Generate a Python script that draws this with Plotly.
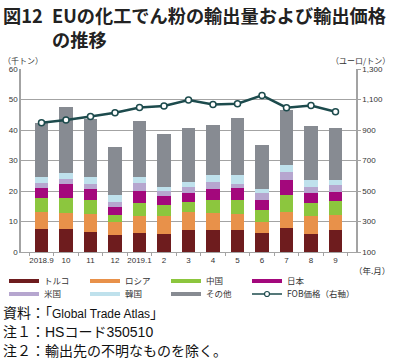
import plotly.graph_objects as go

months = ["2018.9", "10", "11", "12", "2019.1", "2", "3", "4", "5", "6", "7", "8", "9"]

turkey = [7.4, 7.5, 6.4, 5.5, 6.3, 5.8, 7.1, 7.3, 7.1, 6.2, 7.9, 6.0, 7.1]
russia = [5.7, 5.2, 6.2, 4.4, 5.4, 5.9, 6.0, 5.6, 5.5, 3.7, 5.2, 5.8, 4.9]
china = [4.5, 5.0, 4.4, 2.1, 4.5, 3.8, 3.3, 4.1, 4.4, 3.8, 5.5, 4.4, 4.6]
japan = [3.5, 4.5, 3.6, 2.8, 3.9, 2.9, 2.8, 3.5, 4.1, 3.5, 5.0, 3.2, 3.1]
usa = [1.4, 1.6, 1.8, 1.5, 2.5, 1.7, 2.2, 2.3, 1.3, 2.0, 2.7, 1.9, 2.2]
korea = [2.1, 2.2, 2.2, 2.3, 2.0, 1.1, 1.4, 2.6, 3.0, 1.4, 2.2, 2.2, 1.6]
others = [17.8, 21.4, 19.0, 15.7, 18.3, 17.6, 17.9, 16.2, 18.6, 14.6, 18.1, 17.8, 17.2]
fob_price = [948, 965, 989, 1013, 1048, 1057, 1096, 1068, 1072, 1127, 1046, 1061, 1020]

series_names = ["トルコ", "ロシア", "中国", "日本", "米国", "韓国", "その他"]
series_values = [turkey, russia, china, japan, usa, korea, others]
series_colors = ["#6e1c1e", "#e8914a", "#8cc63e", "#a3087c", "#b6a6cf", "#bfe1ec", "#878b92"]
line_name = "FOB価格（右軸）"
line_color = "#1d4b4d"

left_ticks = [0, 10, 20, 30, 40, 50, 60]
right_ticks = [100, 300, 500, 700, 900, 1100, 1300]
right_ticktext = ["100", "300", "500", "700", "900", "1,100", "1,300"]

W, H = 393, 359
ML, MR, MT, MB = 21, 37, 69, 107
PW, PH = W - ML - MR, H - MT - MB

def px(x):
    return (x - ML) / PW

def py(y):
    return (H - MB - y) / PH

FONT = "Liberation Sans, Arial, Noto Sans CJK JP, sans-serif"
JFONT = "Noto Sans CJK JP, sans-serif"
GRID = "#a3a3a3"

fig = go.Figure()

for name, vals, col in zip(series_names, series_values, series_colors):
    fig.add_trace(go.Bar(x=months, y=vals, name=name, marker_color=col,
                         marker_line_width=0, showlegend=False))

fig.add_trace(go.Scatter(x=months, y=fob_price, yaxis="y2", mode="lines+markers",
                         name=line_name,
                         line=dict(color=line_color, width=2.5),
                         marker=dict(symbol="circle", size=6, color="white",
                                     line=dict(color=line_color, width=1.5)),
                         showlegend=False))

# legend entries (line swatches like the original), two rows
for i in range(len(series_names)):
    fig.add_trace(go.Scatter(x=[None], y=[None], mode="lines", name=series_names[i],
                             line=dict(color=series_colors[i], width=4),
                             legend="legend" if i < 4 else "legend2"))
fig.add_trace(go.Scatter(x=[None], y=[None], mode="lines+markers", name=line_name,
                         line=dict(color=line_color, width=1.5),
                         marker=dict(symbol="circle", size=5, color="white",
                                     line=dict(color=line_color, width=1.2)),
                         legend="legend3"))

LEG = dict(orientation="h", traceorder="normal", xanchor="left",
           yanchor="middle", entrywidth=36, entrywidthmode="pixels",
           font=dict(family=JFONT, size=8.5, color="#333333"),
           bgcolor="rgba(0,0,0,0)", tracegroupgap=0, itemwidth=30)

fig.update_layout(
    width=W, height=H,
    margin=dict(l=ML, r=MR, t=MT, b=MB, pad=0, autoexpand=False),
    paper_bgcolor="white", plot_bgcolor="white",
    barmode="stack", bargap=0.46,
    font=dict(family=FONT, size=8, color="#333333"),
    showlegend=True,
    legend=dict(LEG, x=px(4), y=py(281)),
    legend2=dict(LEG, x=px(4), y=py(294)),
    legend3=dict(LEG, x=px(247), y=py(294), entrywidth=90),
    xaxis=dict(type="category", showgrid=False, showline=True, linecolor=GRID, linewidth=1,
               ticks="outside", ticklen=3, tickcolor=GRID, tickson="boundaries",
               tickangle=0, tickfont=dict(size=8, color="#333333"), fixedrange=True),
    yaxis=dict(range=[0, 60], tickvals=left_ticks, showgrid=True, gridcolor=GRID, gridwidth=1,
               showline=True, linecolor=GRID, linewidth=1.5, zeroline=False,
               ticks="", tickfont=dict(size=8, color="#333333")),
    yaxis2=dict(range=[100, 1300], tickvals=right_ticks, ticktext=right_ticktext,
                overlaying="y", side="right", showgrid=False, showline=True,
                linecolor=GRID, linewidth=1.5, ticks="outside", ticklen=3, tickcolor=GRID,
                zeroline=False, tickfont=dict(size=8, color="#333333")),
    hovermode=False,
)

ann = []
TF = dict(family=JFONT, size=18.2, color="#222222")
ann.append(dict(text="<b>図12</b>", x=px(1), y=py(15), xref="paper", yref="paper",
                xanchor="left", yanchor="middle", showarrow=False, font=TF))
ann.append(dict(text="<b>EUの化工でん粉の輸出量および輸出価格</b><br><b>の推移</b>",
                x=px(50), y=py(27), xref="paper", yref="paper", xanchor="left",
                yanchor="middle", align="left", showarrow=False, font=TF))
ann.append(dict(text="（千トン）", x=px(1), y=py(61), xref="paper", yref="paper",
                xanchor="left", yanchor="middle", showarrow=False,
                font=dict(family=JFONT, size=8, color="#333333")))
ann.append(dict(text="（ユーロ/トン）", x=px(392), y=py(61), xref="paper", yref="paper",
                xanchor="right", yanchor="middle", showarrow=False,
                font=dict(family=JFONT, size=8, color="#333333")))
ann.append(dict(text="（年.月）", x=px(392), y=py(270), xref="paper", yref="paper",
                xanchor="right", yanchor="middle", showarrow=False,
                font=dict(family=JFONT, size=8.5, color="#333333")))
notes = ["資料：「<span style='font-size:12px'>Global Trade Atlas</span>」",
         "注１：HSコード350510",
         "注２：輸出先の不明なものを除く。"]
note_y = [313, 332, 351]
for t, yy in zip(notes, note_y):
    ann.append(dict(text=t, x=px(1), y=py(yy), xref="paper", yref="paper",
                    xanchor="left", yanchor="middle", showarrow=False,
                    font=dict(family="Liberation Sans, Noto Sans CJK JP, sans-serif",
                              size=14, color="#111111")))
fig.update_layout(annotations=ann)

fig.write_html("out.html", config={"displayModeBar": False},
               post_script="document.body.style.margin='0';document.body.style.overflow='hidden';")
